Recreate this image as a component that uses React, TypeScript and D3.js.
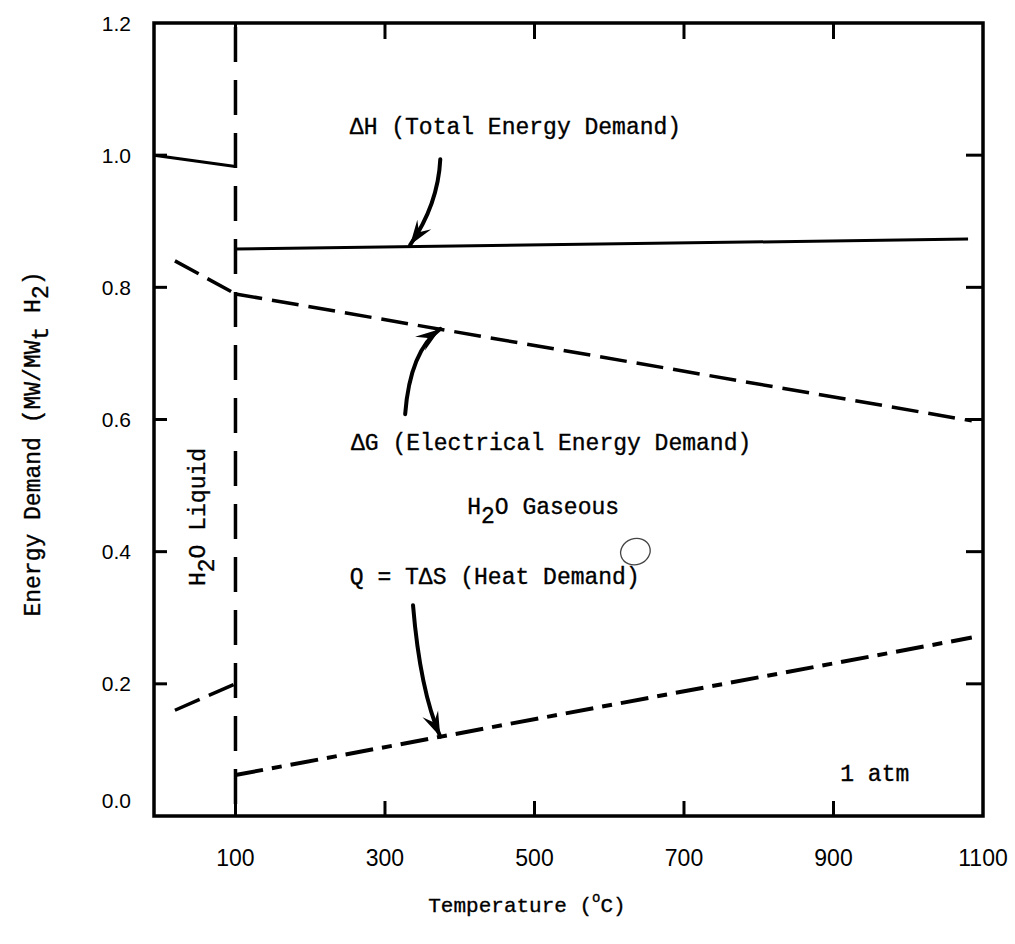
import React from 'react';
import * as d3 from 'd3';

const W = 1015;
const H = 944;

// axis ticks
const xTickValues = [100, 300, 500, 700, 900];
const xTickLabels = [100, 300, 500, 700, 900, 1100];
const yTickValues = [0.2, 0.4, 0.6, 0.8, 1.0];
const yTickLabels = [0.0, 0.2, 0.4, 0.6, 0.8, 1.0, 1.2];

// series (temperature °C, MW/MWt H2)
const dhLiquid: [number, number][] = [[-9, 1.0], [100, 0.983]];
const dhGas: [number, number][] = [[100, 0.858], [1080, 0.873]];
const dgLiquid: [number, number][] = [[19, 0.84], [100, 0.79]];
const dgGas: [number, number][] = [[100, 0.79], [1085, 0.598]];
const qLiquid: [number, number][] = [[19, 0.16], [100, 0.2]];
const qGas: [number, number][] = [[100, 0.062], [1085, 0.27]];
const boundaryT = 100;

// annotation arrows: tail, control, tip
const arrowDH: [number, number][] = [[374, 0.994], [371, 0.925], [333.5, 0.864]];
const arrowDG: [number, number][] = [[327, 0.608], [333.5, 0.704], [374, 0.737]];
const arrowQ: [number, number][] = [[337.5, 0.319], [346.9, 0.19], [374, 0.12]];

const x = d3.scaleLinear().domain([-9, 1100]).range([154, 983]);
const y = d3.scaleLinear().domain([0, 1.2]).range([816, 23]);

const mono = "'Liberation Mono', 'DejaVu Sans Mono', monospace";
const sans = "'Liberation Sans', Arial, sans-serif";

const line = d3
  .line<[number, number]>()
  .x((d) => x(d[0]))
  .y((d) => y(d[1]));

function Arrow({ pts }: { pts: [number, number][] }) {
  const [t, c, p] = pts.map((d) => [x(d[0]), y(d[1])]);
  const path = d3.path();
  path.moveTo(t[0], t[1]);
  path.quadraticCurveTo(c[0], c[1], p[0], p[1]);
  const dx = p[0] - c[0];
  const dy = p[1] - c[1];
  const len = Math.hypot(dx, dy);
  const ux = dx / len;
  const uy = dy / len;
  const nx = -uy;
  const ny = ux;
  const L = 25;
  const Wd = 8.5;
  const head = [
    [p[0], p[1]],
    [p[0] - L * ux + Wd * nx, p[1] - L * uy + Wd * ny],
    [p[0] - 0.62 * L * ux, p[1] - 0.62 * L * uy],
    [p[0] - L * ux - Wd * nx, p[1] - L * uy - Wd * ny],
  ];
  return (
    <g>
      <path d={path.toString()} fill="none" stroke="#000" strokeWidth={4} strokeLinecap="round" />
      <polygon points={head.map((q) => q.join(',')).join(' ')} fill="#000" />
    </g>
  );
}

export default function App() {
  const x0 = x(-9);
  const x1 = x(1100);
  const yb = y(0);
  const yt = y(1.2);
  const fs = 23;
  const txt = { fontFamily: mono, fontSize: fs, stroke: '#000', strokeWidth: 0.35 };
  return (
    <div style={{ position: 'absolute', left: 0, top: 0 }}>
      <svg width={W} height={H} viewBox={`0 0 ${W} ${H}`} style={{ display: 'block', background: '#fff' }}>
        <rect x={0} y={0} width={W} height={H} fill="#fff" />
        {/* frame */}
        <rect x={x0} y={yt} width={x1 - x0} height={yb - yt} fill="none" stroke="#000" strokeWidth={3.5} />
        {/* ticks */}
        {xTickValues.map((v) => (
          <g key={'xt' + v}>
            <line x1={x(v)} x2={x(v)} y1={yb} y2={yb - 15} stroke="#000" strokeWidth={3} />
            <line x1={x(v)} x2={x(v)} y1={yt} y2={yt + 16} stroke="#000" strokeWidth={3} />
          </g>
        ))}
        {yTickValues.map((v) => (
          <g key={'yt' + v}>
            <line x1={x0} x2={x0 + 13} y1={y(v)} y2={y(v)} stroke="#000" strokeWidth={3} />
            <line x1={x1} x2={x1 - 17} y1={y(v)} y2={y(v)} stroke="#000" strokeWidth={3} />
          </g>
        ))}
        {/* tick labels */}
        {xTickLabels.map((v) => (
          <text key={'xl' + v} x={x(v)} y={866} textAnchor="middle" fontFamily={sans} fontSize={23}>
            {v}
          </text>
        ))}
        {yTickLabels.map((v) => (
          <text
            key={'yl' + v}
            x={131}
            y={v === 0 ? 800 : y(v)}
            textAnchor="end"
            dominantBaseline="central"
            fontFamily={sans}
            fontSize={21}
          >
            {v.toFixed(1)}
          </text>
        ))}

        {/* phase boundary */}
        <line
          x1={x(boundaryT)}
          x2={x(boundaryT)}
          y1={yt + 4}
          y2={yb}
          stroke="#000"
          strokeWidth={3.5}
          strokeDasharray="35 18"
        />

        {/* ΔH */}
        <path d={line(dhLiquid)!} fill="none" stroke="#000" strokeWidth={3} />
        <path d={line(dhGas)!} fill="none" stroke="#000" strokeWidth={3} />
        {/* ΔG */}
        <path d={line(dgLiquid)!} fill="none" stroke="#000" strokeWidth={3.5} strokeDasharray="27 10" />
        <path d={line(dgGas)!} fill="none" stroke="#000" strokeWidth={3.5} strokeDasharray="27 10" />
        {/* Q */}
        <path d={line(qLiquid)!} fill="none" stroke="#000" strokeWidth={3.5} strokeDasharray="27 10" />
        <path d={line(qGas)!} fill="none" stroke="#000" strokeWidth={4} strokeDasharray="28 9 10 9" />

        {/* arrows */}
        <Arrow pts={arrowDH} />
        <Arrow pts={arrowDG} />
        <Arrow pts={arrowQ} />

        {/* annotations */}
        <text x={x(253)} y={y(1.032)} {...txt}>
          ΔH (Total Energy Demand)
        </text>
        <text x={x(254.5)} y={y(0.554)} {...txt}>
          ΔG (Electrical Energy Demand)
        </text>
        <text x={x(410)} y={y(0.457)} {...txt}>
          H<tspan dy={9}>2</tspan>
          <tspan dy={-9}>O Gaseous</tspan>
        </text>
        <text x={x(253)} y={y(0.351)} {...txt}>
          Q = TΔS (Heat Demand)
        </text>
        <text x={x(909)} y={y(0.053)} {...txt}>
          1 atm
        </text>
        <text transform={`translate(205,586) rotate(-90)`} {...txt}>
          H<tspan dy={9}>2</tspan>
          <tspan dy={-9}>O Liquid</tspan>
        </text>

        {/* scan artefact circle */}
        <ellipse
          cx={x(635)}
          cy={y(0.4)}
          rx={15}
          ry={13}
          transform={`rotate(-20 ${x(635)} ${y(0.4)})`}
          fill="none"
          stroke="#444"
          strokeWidth={1.3}
        />

        {/* axis titles */}
        <text transform={`translate(40,444) rotate(-90)`} textAnchor="middle" {...txt}>
          Energy Demand (MW/MW<tspan dy={8}>t</tspan>
          <tspan dy={-8}> H</tspan>
          <tspan dy={8}>2</tspan>
          <tspan dy={-8}>)</tspan>
        </text>
        <text x={527} y={912} textAnchor="middle" {...txt} fontSize={21}>
          Temperature (<tspan dy={-10} fontSize={14}>o</tspan>
          <tspan dy={10}>C)</tspan>
        </text>
      </svg>
    </div>
  );
}
